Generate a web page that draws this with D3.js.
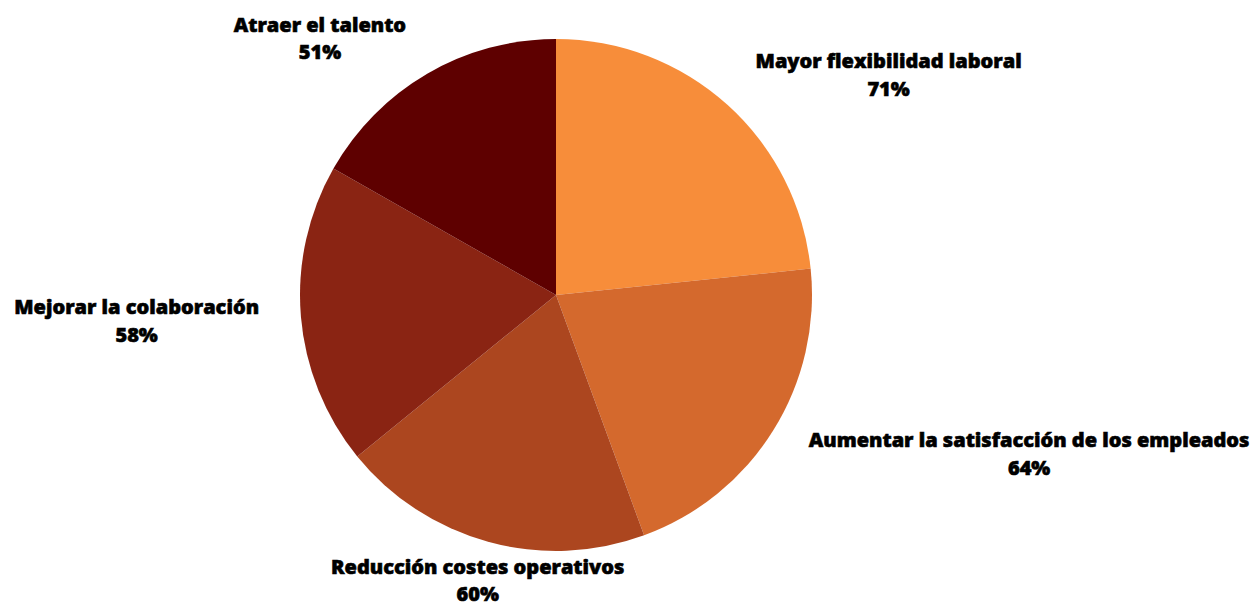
<!DOCTYPE html>
<html>
<head>
<meta charset="utf-8">
<script src="https://cdn.jsdelivr.net/npm/d3@7"></script>
<style>
  body { margin: 0; background: #fff; }
  text { font-family: "Open Sans", sans-serif; font-weight: 800; font-size: 20px; fill: #000;
         stroke: #000; stroke-width: 0.6px; }
</style>
</head>
<body>
<div id="chart"></div>
<script>
// data
var labels = ["Mayor flexibilidad laboral", "Aumentar la satisfacción de los empleados",
              "Reducción costes operativos", "Mejorar la colaboración", "Atraer el talento"];
var values = [71, 64, 60, 58, 51];
var colors = ["#F78D3A", "#D4692D", "#AC461F", "#8A2413", "#5E0000"];

var width = 1258, height = 606;
var cx = 556, cy = 295, radius = 256;

var svg = d3.select("#chart").append("svg")
    .attr("width", width)
    .attr("height", height);

var g = svg.append("g").attr("transform", "translate(" + cx + "," + cy + ")");

var pie = d3.pie().sort(null).value(function (d) { return d; });
var arcs = pie(values);

var arc = d3.arc().innerRadius(0).outerRadius(radius);

g.selectAll("path.slice")
    .data(arcs)
    .enter()
    .append("path")
    .attr("class", "slice")
    .attr("d", arc)
    .attr("fill", function (d, i) { return colors[i]; });

// labels: sideways slices get start/end anchored text, top/bottom ones centred
var lbl = g.selectAll("g.lbl")
    .data(arcs)
    .enter()
    .append("g")
    .attr("class", "lbl")
    .each(function (d, i) {
        var a = (d.startAngle + d.endAngle) / 2;
        var s = Math.sin(a), c = -Math.cos(a);
        var side = Math.abs(s) > 0.5;
        var r = side ? 298 : 295;
        var x = r * s, y = r * c;
        var anchor = side ? (s > 0 ? "start" : "end") : "middle";
        var t = d3.select(this).append("text")
            .attr("text-anchor", anchor);
        t.append("tspan").attr("x", x).attr("y", y - 5.5).text(labels[i]);
        t.append("tspan").attr("x", x).attr("y", y + 22)
            .attr("text-anchor", "middle")
            .text(values[i] + "%");
    });

// centre the percentage line under the name line
lbl.each(function () {
    var t = d3.select(this).select("text");
    var bb = t.select("tspan").node().getBBox();
    t.selectAll("tspan").filter(function (d, j) { return j === 1; })
        .attr("x", bb.x + bb.width / 2);
});
</script>
</body>
</html>
